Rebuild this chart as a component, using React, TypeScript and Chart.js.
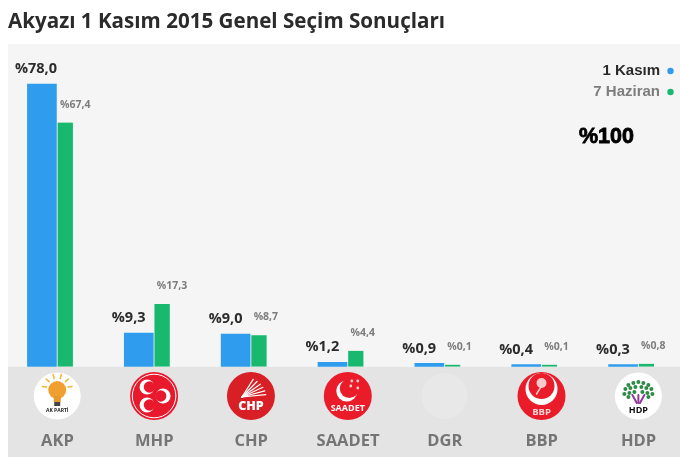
import React, { useEffect, useRef } from "react";
import { Chart, registerables } from "chart.js";

Chart.register(...registerables);

const parties = ["AKP", "MHP", "CHP", "SAADET", "DGR", "BBP", "HDP"];
const november = [78.0, 9.3, 9.0, 1.2, 0.9, 0.4, 0.3];
const june = [67.4, 17.3, 8.7, 4.4, 0.1, 0.1, 0.8];
const seriesNames = ["1 Kasım", "7 Haziran"];
const titleText = "Akyazı 1 Kasım 2015 Genel Seçim Sonuçları";
const stampText = "%100";

const BLUE = "#2f9cee";
const GREEN = "#18b96f";
const PANEL = "#f5f5f5";
const BAND = "#e4e4e4";
const W = 686;
const H = 457;
const PANEL_TOP = 44;
const BASE_H = 90.3;
const FONT = '"Open Sans", sans-serif';
const ARIAL = '"Liberation Sans", Arial, sans-serif';

const fmt = (v: number) => "%" + v.toFixed(1).replace(".", ",");

function circle(ctx: CanvasRenderingContext2D, x: number, y: number, r: number, fill: string) {
  ctx.beginPath();
  ctx.arc(x, y, r, 0, Math.PI * 2);
  ctx.fillStyle = fill;
  ctx.fill();
}

function crescent(ctx: CanvasRenderingContext2D, x: number, y: number, r: number, dir: number, bg: string) {
  circle(ctx, x, y, r, "#fff");
  circle(ctx, x + dir * r * 0.32, y, r * 0.76, bg);
}

function centerText(ctx: CanvasRenderingContext2D, t: string, x: number, y: number, font: string, color: string) {
  ctx.font = font;
  ctx.fillStyle = color;
  ctx.textAlign = "center";
  ctx.textBaseline = "middle";
  ctx.fillText(t, x, y);
}

function drawLogo(ctx: CanvasRenderingContext2D, name: string, x: number, y: number) {
  const R = 24;
  ctx.save();
  ctx.lineCap = "round";
  if (name === "AKP") {
    circle(ctx, x, y, 23.5, "#fff");
    ctx.strokeStyle = "#f3b335";
    ctx.lineWidth = 1.5;
    for (let a = -170; a <= -10; a += 32) {
      const r = (a * Math.PI) / 180;
      ctx.beginPath();
      ctx.moveTo(x + Math.cos(r) * 11, y - 7 + Math.sin(r) * 11);
      ctx.lineTo(x + Math.cos(r) * 15, y - 7 + Math.sin(r) * 15);
      ctx.stroke();
    }
    circle(ctx, x, y - 6, 9, "#f0a030");
    ctx.fillStyle = "#e89a2c";
    ctx.fillRect(x - 3.5, y, 7, 6);
    ctx.fillStyle = "#444";
    ctx.fillRect(x - 3, y + 6, 6, 4);
    centerText(ctx, "AK PARTİ", x, y + 14.5, `bold 5px ${FONT}`, "#222");
  } else if (name === "MHP") {
    circle(ctx, x, y, R, "#e8192c");
    ctx.strokeStyle = "#fff";
    ctx.lineWidth = 1;
    ctx.beginPath();
    ctx.arc(x, y, 21.8, 0, Math.PI * 2);
    ctx.stroke();
    crescent(ctx, x - 7, y - 9, 7.5, 1, "#e8192c");
    crescent(ctx, x - 7, y + 9, 7.5, 1, "#e8192c");
    crescent(ctx, x + 9, y, 7.5, -1, "#e8192c");
  } else if (name === "CHP") {
    circle(ctx, x, y, R, "#d81f26");
    ctx.strokeStyle = "#fff";
    ctx.lineWidth = 1.2;
    for (let i = 0; i < 6; i++) {
      const a = (-62 + i * 11) * (Math.PI / 180);
      ctx.beginPath();
      ctx.moveTo(x - 9, y + 1);
      ctx.lineTo(x - 9 + Math.cos(a) * 24, y + 1 + Math.sin(a) * 20);
      ctx.stroke();
    }
    centerText(ctx, "CHP", x, y + 10.5, `800 12.5px ${FONT}`, "#fff");
  } else if (name === "SAADET") {
    circle(ctx, x, y, R, "#ea1c2a");
    circle(ctx, x - 1, y - 5, 10.5, "#fff");
    circle(ctx, x + 1.5, y - 7.5, 9.5, "#ea1c2a");
    [[3, -10], [10, -15], [4, -15], [10, -8]].forEach(([dx, dy]) => {
      circle(ctx, x + dx, y + dy, 1.4, "#f8d0d2");
    });
    centerText(ctx, "SAADET", x, y + 12, `bold 9px ${FONT}`, "#fff");
  } else if (name === "DGR") {
    circle(ctx, x, y, 23, "#e8e8e8");
  } else if (name === "BBP") {
    circle(ctx, x, y, R, "#ea1c2a");
    circle(ctx, x, y - 7, 16, "#fff");
    circle(ctx, x, y - 10, 13, "#ea1c2a");
    circle(ctx, x, y - 13, 5, "#f6c9cb");
    ctx.strokeStyle = "#f6c9cb";
    ctx.lineWidth = 1.5;
    ctx.beginPath();
    ctx.moveTo(x, y - 10);
    ctx.lineTo(x - 5, y - 2);
    ctx.stroke();
    centerText(ctx, "BBP", x, y + 16.5, `bold 9.5px ${FONT}`, "#f6d5d6");
  } else if (name === "HDP") {
    circle(ctx, x, y, 23.5, "#fff");
    const leaves = [[-10, -11], [-5, -13], [0, -14], [5, -13], [10, -11], [-13, -7], [-8, -8], [-3, -9], [3, -9], [8, -8], [13, -7], [-14, -2], [-9, -3], [-4, -4], [4, -4], [9, -3], [14, -2], [-10, 1], [10, 1]];
    leaves.forEach(([dx, dy]) => circle(ctx, x + dx, y + dy, 2, "#2f8a45"));
    ctx.strokeStyle = "#8e3a96";
    ctx.lineWidth = 2;
    [-4, 0, 4].forEach((dx) => {
      ctx.beginPath();
      ctx.moveTo(x + dx * 1.5, y - 1);
      ctx.lineTo(x + dx * 0.4, y + 7);
      ctx.stroke();
    });
    centerText(ctx, "HDP", x, y + 14.5, `bold 9px ${FONT}`, "#111");
  }
  ctx.restore();
}

const decor = {
  id: "decor",
  beforeDraw(chart: any) {
    const { ctx, chartArea } = chart;
    ctx.save();
    ctx.fillStyle = "#fff";
    ctx.fillRect(0, 0, W, H);
    ctx.fillStyle = PANEL;
    ctx.fillRect(8, PANEL_TOP, W, chartArea.bottom - PANEL_TOP);
    ctx.fillStyle = BAND;
    ctx.fillRect(8, chartArea.bottom, W, H - chartArea.bottom);
    ctx.restore();
  },
  afterDatasetsDraw(chart: any) {
    const { ctx, scales } = chart;
    ctx.save();
    // title
    ctx.font = `bold 20.6px ${FONT}`;
    ctx.fillStyle = "#2b2b2b";
    ctx.textAlign = "left";
    ctx.textBaseline = "alphabetic";
    ctx.fillText(titleText, 8, 28);

    // value labels
    ctx.textBaseline = "middle";
    chart.getDatasetMeta(0).data.forEach((el: any, i: number) => {
      ctx.font = `bold 14.5px ${FONT}`;
      ctx.fillStyle = "#2b2b2b";
      ctx.fillText(fmt(november[i]), el.x - el.width / 2 - 12.5, el.y - 15);
    });
    chart.getDatasetMeta(1).data.forEach((el: any, i: number) => {
      ctx.font = `bold 10.5px ${FONT}`;
      ctx.fillStyle = "#7d7d7d";
      ctx.fillText(fmt(june[i]), el.x - el.width / 2 + 3.5, el.y - 18);
    });

    // legend
    ctx.font = `bold 15px ${ARIAL}`;
    ctx.textAlign = "right";
    ctx.fillStyle = "#2b2b2b";
    ctx.fillText(seriesNames[0], 660, 71);
    circle(ctx, 670.5, 71, 3.2, BLUE);
    ctx.fillStyle = "#7d7d7d";
    ctx.fillText(seriesNames[1], 660, 92);
    circle(ctx, 670.5, 92, 3.2, GREEN);

    // stamp
    ctx.textAlign = "left";
    ctx.font = `bold 21.5px ${ARIAL}`;
    ctx.fillStyle = "#000";
    ctx.strokeStyle = "#000";
    ctx.lineWidth = 0.8;
    ctx.fillText(stampText, 579, 137);
    ctx.strokeText(stampText, 579, 137);

    // logos
    parties.forEach((p, i) => drawLogo(ctx, p, scales.x.getPixelForValue(i) + 0.8, 396));
    ctx.restore();
  },
};

export default function App() {
  const ref = useRef<HTMLCanvasElement>(null);
  useEffect(() => {
    const chart = new Chart(ref.current as HTMLCanvasElement, {
      type: "bar",
      data: {
        labels: parties,
        datasets: [
          { label: seriesNames[0], data: november, backgroundColor: BLUE, barThickness: 29, minBarLength: 2 },
          {
            label: seriesNames[1],
            data: june,
            backgroundColor: GREEN,
            barThickness: 16.5,
            minBarLength: 2,
            borderWidth: { left: 1.5 },
            borderColor: PANEL,
            borderSkipped: "bottom",
          },
        ],
      },
      options: {
        responsive: false,
        animation: false,
        devicePixelRatio: 1,
        layout: { padding: { left: 8, right: 0, top: PANEL_TOP, bottom: 0 } },
        plugins: { legend: { display: false }, tooltip: { enabled: false }, title: { display: false } },
        scales: {
          x: {
            grid: { display: false },
            border: { display: false },
            afterFit: (s: any) => {
              s.height = BASE_H;
              s.paddingLeft = 0;
              s.paddingRight = 0;
            },
            ticks: {
              padding: 57,
              labelOffset: 1,
              autoSkip: false,
              maxRotation: 0,
              color: "#757575",
              font: { family: "Open Sans", weight: "bold", size: 16.5 },
            },
          },
          y: { display: false, min: 0, max: 89.1 },
        },
      },
      plugins: [decor],
    } as any);
    return () => chart.destroy();
  }, []);
  return (
    <div style={{ position: "fixed", left: 0, top: 0, width: 680, height: 457, overflow: "hidden", background: "#fff" }}>
      <canvas ref={ref} width={W} height={H} style={{ display: "block", width: W, height: H }} />
    </div>
  );
}
